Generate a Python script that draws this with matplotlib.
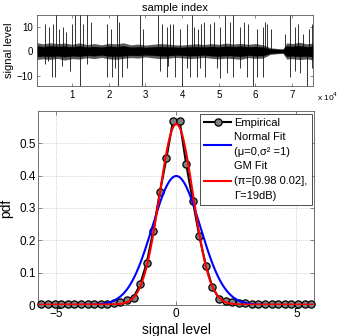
import numpy as np
import matplotlib
matplotlib.use("Agg")
import matplotlib.pyplot as plt

plt.rcParams['font.family'] = ['Liberation Sans', 'DejaVu Sans']

# ---------------- data ----------------
# top panel: envelope of the dense noise band (sample index, upper, lower)
band_idx = [0, 2000, 4000, 6000, 8000, 10000, 12000, 14000, 16000, 18000, 20000,
            22000, 24000, 26000, 28000, 30000, 32000, 34000, 36000, 38000, 40000,
            42000, 44000, 46000, 48000, 50000, 52000, 54000, 56000, 58000, 60000,
            62000, 63000, 64000, 66000, 67500, 68500, 70000, 72000, 74000, 75600]
band_up = [2.2, 1.8, 2.1, 1.9, 2.0, 1.7, 2.1, 1.6, 1.9, 1.6, 2.0,
           1.8, 2.1, 1.6, 1.8, 1.5, 1.7, 1.9, 1.7, 1.6, 1.5,
           1.7, 1.8, 1.6, 1.9, 1.7, 2.0, 1.8, 2.0, 1.7, 1.9,
           1.6, 1.3, 0.9, 0.7, 0.6, 2.1, 1.9, 2.2, 1.8, 2.0]
band_lo = [-2.1, -1.9, -2.0, -1.8, -2.2, -1.8, -2.0, -1.6, -1.8, -1.5, -1.9,
           -2.0, -1.8, -1.6, -1.7, -1.4, -1.6, -1.8, -1.8, -1.5, -1.6,
           -1.8, -1.7, -1.5, -1.8, -1.9, -1.7, -1.8, -2.0, -1.6, -1.8,
           -1.7, -1.3, -0.8, -0.6, -0.5, -2.0, -1.8, -2.1, -1.9, -2.2]
# outer fuzz of the band (sparser noise excursions)
fuzz_up = [3.6, 3.0, 3.4, 3.1, 3.3, 2.8, 3.4, 2.7, 3.1, 2.6, 3.2,
           3.0, 3.4, 2.6, 2.9, 2.5, 2.8, 3.1, 2.9, 2.6, 2.5,
           2.8, 3.0, 2.7, 3.1, 2.8, 3.3, 2.9, 3.2, 2.8, 3.1,
           2.6, 2.1, 1.4, 1.1, 1.0, 3.4, 3.1, 3.6, 3.0, 3.3]
fuzz_lo = [-3.4, -3.1, -3.3, -2.9, -3.6, -3.0, -3.2, -2.6, -3.0, -2.5, -3.1,
           -3.3, -2.9, -2.6, -2.8, -2.3, -2.7, -3.0, -2.9, -2.5, -2.7,
           -3.0, -2.8, -2.5, -2.9, -3.1, -2.8, -3.0, -3.3, -2.6, -2.9,
           -2.8, -2.1, -1.3, -1.0, -0.9, -3.2, -3.0, -3.4, -3.1, -3.5]

# top panel: impulsive spikes (sample index, level)
spike_up_idx = [2636, 3818, 4727, 5636, 6545, 7636, 8364, 9909, 10818, 12182, 13091,
                14182, 15091, 19455, 20545, 22182, 22909, 28545, 29273, 33545, 34455,
                35818, 36727, 37636, 39455, 41273, 42636, 43273, 44455, 45091, 46000,
                47636, 48727, 50364, 51727, 53091, 54000, 55818, 56909, 58091, 60364,
                62000, 62636, 63273, 64182, 68182, 69455, 70818, 71727, 73091, 74455, 75364]
spike_up_val = [11, 10, 11, 14.5, 9, 10, 8, 11, 14.5, 14.5, 11,
                14.5, 12, 11, 9, 14.5, 12, 14.5, 9, 14.5, 11,
                10, 11, 11, 9, 11, 14.5, 10, 9, 11, 12,
                11, 12, 10, 14.5, 12, 14.5, 10, 12, 11, 9,
                10, 12, 11, 9, 7, 14.5, 10, 11, 7, 9, 11]
spike_dn_idx = [2636, 3545, 4455, 5364, 7182, 9455, 12182, 14000, 19455, 20818, 21727,
                22636, 23545, 24909, 29000, 34000, 35818, 36273, 38091, 39909, 41273,
                42182, 44000, 44909, 46273, 49455, 50364, 52182, 54000, 55818, 57636,
                59455, 60364, 62182, 69455, 70818, 72182, 74000, 75364]
spike_dn_val = [-5, -4, -10.5, -10.5, -6, -8, -14, -5, -10.5, -10.5, -7,
                -14, -10.5, -7, -14, -8, -10.5, -6, -10.5, -14, -7,
                -10.5, -10.5, -7, -10.5, -7, -11, -9, -10.5, -7, -10.5,
                -14, -10.5, -10.5, -10.5, -8, -9, -14, -7]

top_xticks = [10000, 20000, 30000, 40000, 50000, 60000, 70000]
top_xticklabels = ['1', '2', '3', '4', '5', '6', '7']
top_yticks = [-10, 0, 10]

# bottom panel: empirical pdf (bin centres, pdf)
emp_x = [-5.617, -5.343, -5.069, -4.795, -4.521, -4.247, -3.973, -3.699, -3.425, -3.151,
         -2.877, -2.603, -2.329, -2.055, -1.781, -1.507, -1.233, -0.959, -0.685, -0.411,
         -0.137, 0.137, 0.411, 0.685, 0.959, 1.233, 1.507, 1.781, 2.055, 2.329,
         2.603, 2.877, 3.151, 3.425, 3.699, 3.973, 4.247, 4.521, 4.795, 5.069,
         5.343, 5.617]
emp_pdf = [0.002, 0.002, 0.002, 0.002, 0.002, 0.002, 0.002, 0.002, 0.003, 0.003,
           0.004, 0.006, 0.010, 0.015, 0.023, 0.064, 0.130, 0.229, 0.349, 0.454,
           0.570, 0.570, 0.436, 0.323, 0.213, 0.122, 0.055, 0.020, 0.012, 0.008,
           0.006, 0.005, 0.004, 0.003, 0.003, 0.003, 0.002, 0.002, 0.002, 0.002,
           0.002, 0.002]

# fitted models (parameters)
normal_mu = 0.0
normal_var = 1.0
gm_pi = [0.98, 0.02]
gm_gamma_db = 19.0
gm_sigma0 = 0.70

bot_xticks = [-5, 0, 5]
bot_yticks = [0, 0.1, 0.2, 0.3, 0.4, 0.5]

# ---------------- figure ----------------
W, H = 338, 336
fig = plt.figure(figsize=(W / 100, H / 100), dpi=100)
edge = '0.35'

# top axes
ax1 = fig.add_axes([37.3 / W, 1 - 85.7 / H, 275.4 / W, 70.7 / H])
ax1.fill_between(band_idx, fuzz_lo, fuzz_up, color='0.35', lw=0, zorder=1)
ax1.fill_between(band_idx, band_lo, band_up, color='black', lw=0.3, zorder=2)
ax1.vlines(spike_up_idx, 0, spike_up_val, color='black', lw=0.7, alpha=0.8, zorder=3)
ax1.vlines(spike_dn_idx, 0, spike_dn_val, color='black', lw=0.7, alpha=0.8, zorder=3)
ax1.set_xlim(500, 75600)
ax1.set_ylim(-14, 14.7)
ax1.set_xticks(top_xticks)
ax1.set_xticklabels(top_xticklabels)
ax1.set_yticks(top_yticks)
ax1.set_yticklabels(['\u221210', '0', '10'])
ax1.tick_params(direction='in', length=2.5, width=0.5, labelsize=7, colors=edge,
                labelcolor='black', top=True, right=True, pad=3)
for s in ax1.spines.values():
    s.set_color(edge)
    s.set_linewidth(0.6)
ax1.set_title('sample index', fontsize=8, pad=3)
ax1.set_ylabel('signal level', fontsize=8, labelpad=2)
fig.text(317 / W, 1 - 97 / H, 'x 10$^4$', fontsize=6, ha='left', va='center')

# bottom axes
ax2 = fig.add_axes([38.3 / W, 1 - 305 / H, 276 / W, 194 / H])
xs = np.linspace(-5.75, 5.75, 600)
normal_pdf = np.exp(-(xs - normal_mu) ** 2 / (2 * normal_var)) / np.sqrt(2 * np.pi * normal_var)
s1_var = gm_sigma0 ** 2 * 10 ** (gm_gamma_db / 10)
gm_pdf = (gm_pi[0] * np.exp(-xs ** 2 / (2 * gm_sigma0 ** 2)) / np.sqrt(2 * np.pi * gm_sigma0 ** 2)
          + gm_pi[1] * np.exp(-xs ** 2 / (2 * s1_var)) / np.sqrt(2 * np.pi * s1_var))

ax2.plot(emp_x, emp_pdf, '-o', color='black', lw=1.5, ms=5.2, mfc='#808080',
         mec='black', mew=0.9, label='Empirical', zorder=3, clip_on=False)
ax2.plot(xs, normal_pdf, color='#0000ff', lw=1.5,
         label='Normal Fit\n(\u03bc=0,\u03c3\u00b2 =1)', zorder=4)
ax2.plot(xs, gm_pdf, color='#ff0000', lw=1.5,
         label='GM Fit\n(\u03c0=[0.98 0.02],\n\u0393=19dB)', zorder=5)
ax2.set_xlim(-5.75, 5.75)
ax2.set_ylim(0, 0.6)
ax2.set_xticks(bot_xticks)
ax2.set_xticklabels(['\u22125', '0', '5'])
ax2.set_yticks(bot_yticks)
ax2.set_yticklabels(['0', '0.1', '0.2', '0.3', '0.4', '0.5'])
ax2.grid(True, linestyle=':', color='0.75', lw=0.6)
ax2.tick_params(direction='in', length=3, width=0.5, labelsize=8.5, colors=edge,
                labelcolor='black', top=True, right=True, pad=2)
for s in ax2.spines.values():
    s.set_color(edge)
    s.set_linewidth(0.6)
ax2.set_xlabel('signal level', fontsize=10, labelpad=2)
ax2.set_ylabel('pdf', fontsize=10, labelpad=4)
leg = ax2.legend(loc='upper right', fontsize=8, handlelength=2.4, handletextpad=0.3,
                 borderpad=0.35, labelspacing=0.4, borderaxespad=0.25,
                 fancybox=False, framealpha=1, edgecolor='0.3')
for t in leg.get_texts():
    t.set_linespacing(1.6)
leg.get_frame().set_linewidth(0.7)

fig.savefig('out.png', dpi=100)
